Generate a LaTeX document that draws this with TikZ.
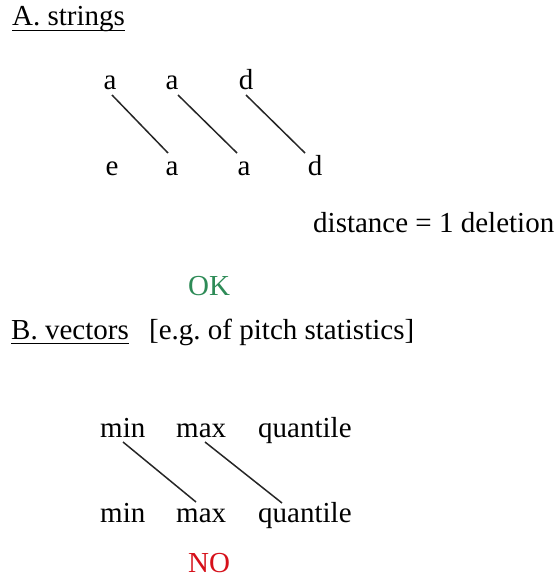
\documentclass[tikz,border=0pt]{standalone}
\usepackage{fontspec}
\setmainfont{Liberation Serif}
\usetikzlibrary{calc}
\definecolor{okgreen}{RGB}{46,139,87}
\definecolor{nored}{RGB}{214,16,26}
\begin{document}
\frenchspacing
\begin{tikzpicture}[x=1pt,y=-1pt,
  lbl/.style={inner sep=0pt, font=\fontsize{29}{34}\selectfont, anchor=base},
  lblw/.style={lbl, anchor=base west},
  link/.style={line width=1.5pt, black!85}]
\useasboundingbox (0,0) rectangle (556,584);
% A. strings
\node[lblw] (hA) at (12,25) {A. strings};
\draw[line width=1pt] ([shift={(0,5)}]hA.base west) -- ([shift={(0,5)}]hA.base east);
\node[lbl] (t1) at (110,89) {a};
\node[lbl] (t2) at (172,89) {a};
\node[lbl] (t3) at (246,89) {d};
\node[lbl] (b1) at (112,175) {e};
\node[lbl] (b2) at (172,175) {a};
\node[lbl] (b3) at (244,175) {a};
\node[lbl] (b4) at (315,175) {d};
\draw[link] ([shift={(2,6)}]t1.base) -- ([shift={(-4,-22)}]b2.base);
\draw[link] ([shift={(6,6)}]t2.base) -- ([shift={(-7,-22)}]b3.base);
\draw[link] ([shift={(0,6)}]t3.base) -- ([shift={(-10,-22)}]b4.base);
\node[lblw] (dist) at (313,232) {distance = 1 deletion};
\node[lblw, text=okgreen] (ok) at (188,295) {OK};
% B. vectors
\node[lblw] (hB) at (11,339) {B. vectors};
\draw[line width=1pt] ([shift={(0,4)}]hB.base west) -- ([shift={(0,4)}]hB.base east);
\node[lblw] (eg) at (149,339) {[e.g.\ of pitch statistics]};
\node[lblw] (tmin) at (100,437) {min};
\node[lblw] (tmax) at (176,437) {max};
\node[lblw] (tq) at (258,437) {quantile};
\node[lblw] (bmin) at (100,522) {min};
\node[lblw] (bmax) at (176,522) {max};
\node[lblw] (bq) at (258,522) {quantile};
\draw[link] ([shift={(23,5)}]tmin.base west) -- ([shift={(20,-20)}]bmax.base west);
\draw[link] ([shift={(29,5)}]tmax.base west) -- ([shift={(24,-19)}]bq.base west);
\node[lblw, text=nored] (no) at (188,572) {NO};
\end{tikzpicture}
\end{document}
